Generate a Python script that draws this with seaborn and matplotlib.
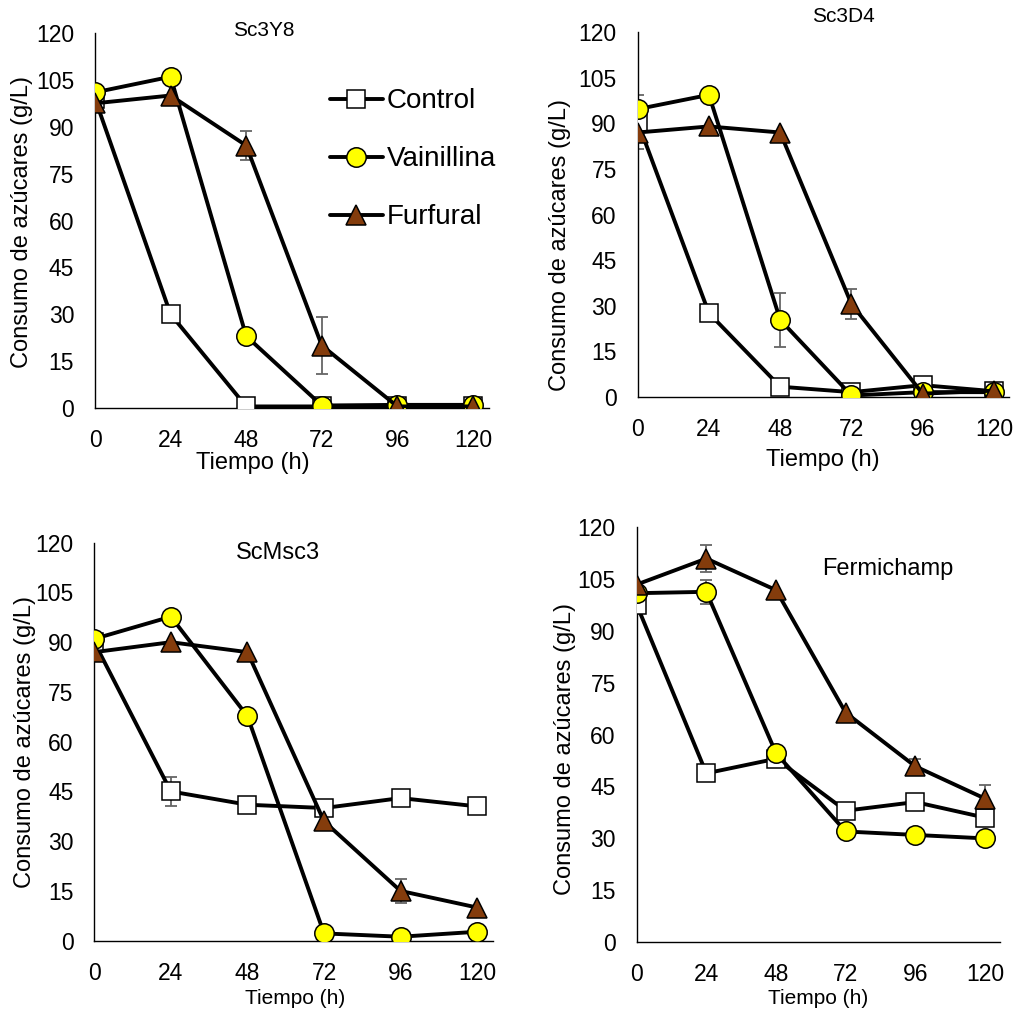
import numpy as np
import pandas as pd
import seaborn as sns
import matplotlib.pyplot as plt

# Time points (h)
tiempo = [0, 24, 48, 72, 96, 120]

# Sc3Y8
sc3y8_control = [99, 30, 0.5, 0.5, 0.5, 0.5]
sc3y8_vainillina = [101, 106, 23, 0.8, 1, 1]
sc3y8_furfural = [97.5, 100, 84, 20, 0.5, 0.5]
sc3y8_furfural_err = [0, 0, 4.5, 9, 0, 0]

# Sc3D4
sc3d4_control = [90.5, 27.5, 3.3, 1.5, 3.8, 1.8]
sc3d4_control_err = [9, 0, 0, 0, 0, 0]
sc3d4_vainillina = [94.7, 99.4, 25.3, 0.4, 1.5, 1.5]
sc3d4_vainillina_err = [0, 0, 9, 0, 0, 0]
sc3d4_furfural = [87, 89, 87, 30.5, 1, 2]
sc3d4_furfural_err = [0, 0, 0, 5, 0, 0]

# ScMsc3
scmsc3_control = [90, 45, 41, 40, 43, 40.5]
scmsc3_control_err = [0, 4.4, 0, 0, 0, 0]
scmsc3_vainillina = [91, 97.7, 67.7, 2.2, 1.2, 2.7]
scmsc3_furfural = [87, 90, 87, 36, 15, 10]
scmsc3_furfural_err = [0, 0, 0, 0, 3.5, 0]

# Fermichamp
ferm_control = [97.5, 48.8, 53, 38, 40.5, 36]
ferm_control_err = [0, 0, 2.5, 0, 0, 0]
ferm_vainillina = [100.8, 101.2, 54.6, 32, 31, 30]
ferm_vainillina_err = [0, 3.5, 0, 0, 0, 0]
ferm_furfural = [103.3, 110.8, 101.7, 66.3, 50.8, 41.5]
ferm_furfural_err = [0, 4, 0, 0, 2, 4]

series_names = ["Control", "Vainillina", "Furfural"]
y_ticks = [0, 15, 30, 45, 60, 75, 90, 105, 120]

sns.set_style("white")
plt.rcParams['font.family'] = ['Liberation Sans', 'DejaVu Sans']
plt.rcParams['text.color'] = 'black'
plt.rcParams['axes.labelcolor'] = 'black'

W, H = 1019, 1017
fig = plt.figure(figsize=(W / 100, H / 100), dpi=100)

styles = {
    "Control": dict(marker='s', markersize=13.5, markerfacecolor='white'),
    "Vainillina": dict(marker='o', markersize=14, markerfacecolor='#FFFF00'),
    "Furfural": dict(marker='^', markersize=15, markerfacecolor='#843C0C'),
}

panels = [
    dict(name="Sc3Y8", box=(95, 33, 488.75, 408),
         vals=[sc3y8_control, sc3y8_vainillina, sc3y8_furfural],
         errs=[None, None, sc3y8_furfural_err],
         title_xy=(264, 30), title_fs=15, xlab_xy=(253, 463), xlab_fs=17,
         ylab_xy=(22, 222)),
    dict(name="Sc3D4", box=(637.7, 32.3, 1008.8, 396.7),
         vals=[sc3d4_control, sc3d4_vainillina, sc3d4_furfural],
         errs=[sc3d4_control_err, sc3d4_vainillina_err, sc3d4_furfural_err],
         title_xy=(843, 17), title_fs=15, xlab_xy=(823, 460), xlab_fs=17,
         ylab_xy=(560, 245)),
    dict(name="ScMsc3", box=(94.3, 542.7, 493.1, 940.7),
         vals=[scmsc3_control, scmsc3_vainillina, scmsc3_furfural],
         errs=[scmsc3_control_err, None, scmsc3_furfural_err],
         title_xy=(278, 553), title_fs=17, xlab_xy=(295, 999), xlab_fs=15,
         ylab_xy=(25, 742)),
    dict(name="Fermichamp", box=(636.7, 526.7, 999.5, 942.3),
         vals=[ferm_control, ferm_vainillina, ferm_furfural],
         errs=[ferm_control_err, ferm_vainillina_err, ferm_furfural_err],
         title_xy=(888, 569), title_fs=17, xlab_xy=(818, 999), xlab_fs=15,
         ylab_xy=(565, 749)),
]

for i, p in enumerate(panels):
    x0, y0, x1, y1 = p["box"]
    ax = fig.add_axes([x0 / W, 1 - y1 / H, (x1 - x0) / W, (y1 - y0) / H])
    ax.patch.set_alpha(0)

    for name, vals, err in zip(series_names, p["vals"], p["errs"]):
        if err is not None:
            e = np.array(err, dtype=float)
            m = e > 0
            ax.errorbar(np.array(tiempo)[m], np.array(vals)[m], yerr=e[m], fmt='none',
                        ecolor='#666666', elinewidth=1.3, capsize=4.5, capthick=1.3, zorder=2)
        df = pd.DataFrame({"Tiempo": tiempo, "Valor": vals})
        sns.lineplot(data=df, x="Tiempo", y="Valor", ax=ax, color='black', linewidth=2.8,
                     markeredgecolor='black', markeredgewidth=1.1, label=name,
                     zorder=3, **styles[name])

    ax.set_xlim(0, 125)
    ax.set_ylim(0, 120)
    ax.set_xticks(tiempo)
    ax.set_yticks(y_ticks)
    ax.tick_params(axis='both', length=0, labelsize=16.5, pad=15,
                   colors='black', labelcolor='black')
    for s in ['top', 'right']:
        ax.spines[s].set_visible(False)
    for s in ['left', 'bottom']:
        ax.spines[s].set_color('black')
        ax.spines[s].set_linewidth(1.0)
    ax.set_xlabel('')
    ax.set_ylabel('')

    if i == 0:
        ax.legend(loc='upper left', bbox_to_anchor=(0.597, 0.852), frameon=False,
                  fontsize=20, handlelength=1.9, handletextpad=0.15,
                  labelspacing=1.15, borderpad=0, borderaxespad=0)
    else:
        ax.get_legend().remove()

    tx, ty = p["title_xy"]
    fig.text(tx / W, 1 - ty / H, p["name"], ha='center', va='center',
             fontsize=p["title_fs"], color='black')
    lx, ly = p["xlab_xy"]
    fig.text(lx / W, 1 - ly / H, "Tiempo (h)", ha='center', va='center',
             fontsize=p["xlab_fs"], color='black')
    yx, yy = p["ylab_xy"]
    fig.text(yx / W, 1 - yy / H, "Consumo de azúcares (g/L)", ha='center', va='center',
             rotation=90, fontsize=17, color='black')

fig.savefig("out.png", dpi=100)
